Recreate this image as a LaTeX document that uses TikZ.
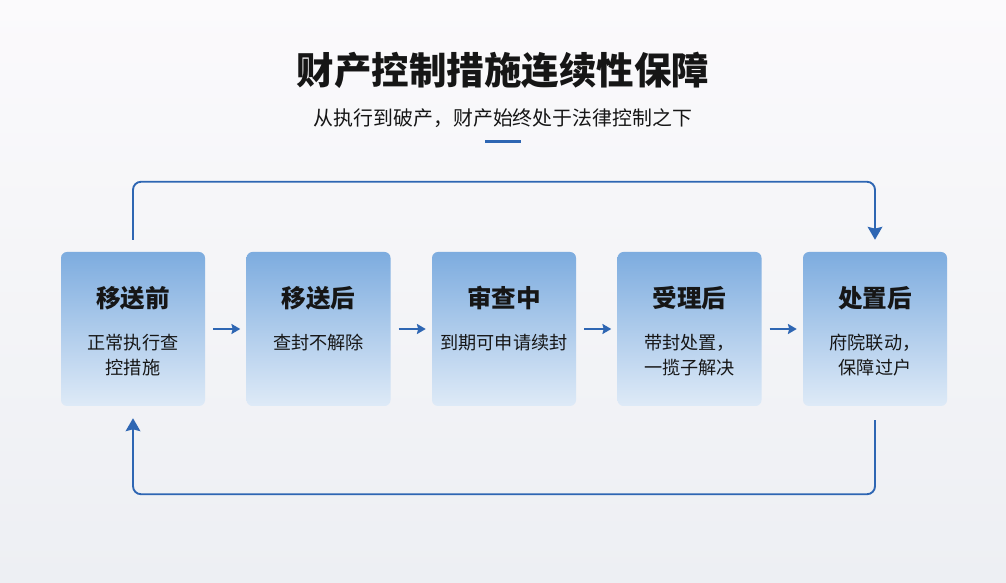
\documentclass[tikz,border=0pt]{standalone}
\usepackage{fontspec}
\setmainfont{Noto Sans CJK SC}
\usetikzlibrary{positioning, arrows.meta}
\definecolor{lineblue}{HTML}{2E66B3}
\definecolor{boxtop}{HTML}{7DACDF}
\definecolor{boxbottom}{HTML}{DEEAF7}
\definecolor{inkdark}{HTML}{161616}
\definecolor{bgtop}{HTML}{FBFAFC}
\definecolor{bgbottom}{HTML}{EDEFF3}
\tikzstyle{stage} = [rectangle, rounded corners=0.18cm, minimum width=4.32cm, minimum height=4.62cm, top color=boxtop, bottom color=boxbottom]
\tikzstyle{stagetitle} = [font=\fontsize{21}{25}\selectfont\bfseries, text=inkdark]
\tikzstyle{stagetext} = [font=\fontsize{15.5}{21.5}\selectfont, text=inkdark, align=center]
\tikzstyle{arrow} = [line width=1.7pt, draw=lineblue, -{Stealth[length=7.5pt,width=8.5pt,inset=1pt]}, shorten <=0.24cm, shorten >=0.18cm]
\tikzstyle{returnline} = [line width=1.6pt, draw=lineblue, rounded corners=0.24cm, -{Stealth[length=11pt,width=12.5pt,inset=1.5pt]}]

\begin{document}
\begin{tikzpicture}[node distance=5.565cm]
\fill[top color=bgtop, bottom color=bgbottom] (0,0) rectangle (30.18,17.49);

\node (title) at (15.09,15.39) [font=\fontsize{32}{38}\selectfont\bfseries, text=inkdark] {财产控制措施连续性保障};
\node (subtitle) at (15.09,13.95) [font=\fontsize{17}{20}\selectfont, text=inkdark] {从执行到破产，财产始终处于法律控制之下};
\node (rule) at (15.09,13.23) [fill=lineblue, minimum width=1.08cm, minimum height=0.09cm, inner sep=0pt] {};

\node (before) [stage] at (3.99,7.62) {};
\node (after) [stage, right of=before] {};
\node (review) [stage, right of=after] {};
\node (accepted) [stage, right of=review] {};
\node (disposal) [stage, right of=accepted] {};

\node (beforehead) [stagetitle] at ([yshift=0.93cm]before.center) {移送前};
\node (beforetext) [stagetext] at ([yshift=-0.79cm]before.center) {正常执行查\\控措施};
\node (afterhead) [stagetitle] at ([yshift=0.93cm]after.center) {移送后};
\node (aftertext) [stagetext] at ([yshift=-0.42cm]after.center) {查封不解除};
\node (reviewhead) [stagetitle] at ([yshift=0.93cm]review.center) {审查中};
\node (reviewtext) [stagetext] at ([yshift=-0.42cm]review.center) {到期可申请续封};
\node (acceptedhead) [stagetitle] at ([yshift=0.93cm]accepted.center) {受理后};
\node (acceptedtext) [stagetext] at ([yshift=-0.79cm]accepted.center) {带封处置，\\一揽子解决};
\node (disposalhead) [stagetitle] at ([yshift=0.93cm]disposal.center) {处置后};
\node (disposaltext) [stagetext] at ([yshift=-0.79cm]disposal.center) {府院联动，\\保障过户};

\draw [arrow] (before) -- (after);
\draw [arrow] (after) -- (review);
\draw [arrow] (review) -- (accepted);
\draw [arrow] (accepted) -- (disposal);

\draw [returnline] ([yshift=0.36cm]before.north) -- ++(0,1.74) -| ([yshift=0.36cm]disposal.north);
\draw [returnline] ([yshift=-0.42cm]disposal.south) -- ++(0,-2.22) -| ([yshift=-0.36cm]before.south);

\end{tikzpicture}
\end{document}
